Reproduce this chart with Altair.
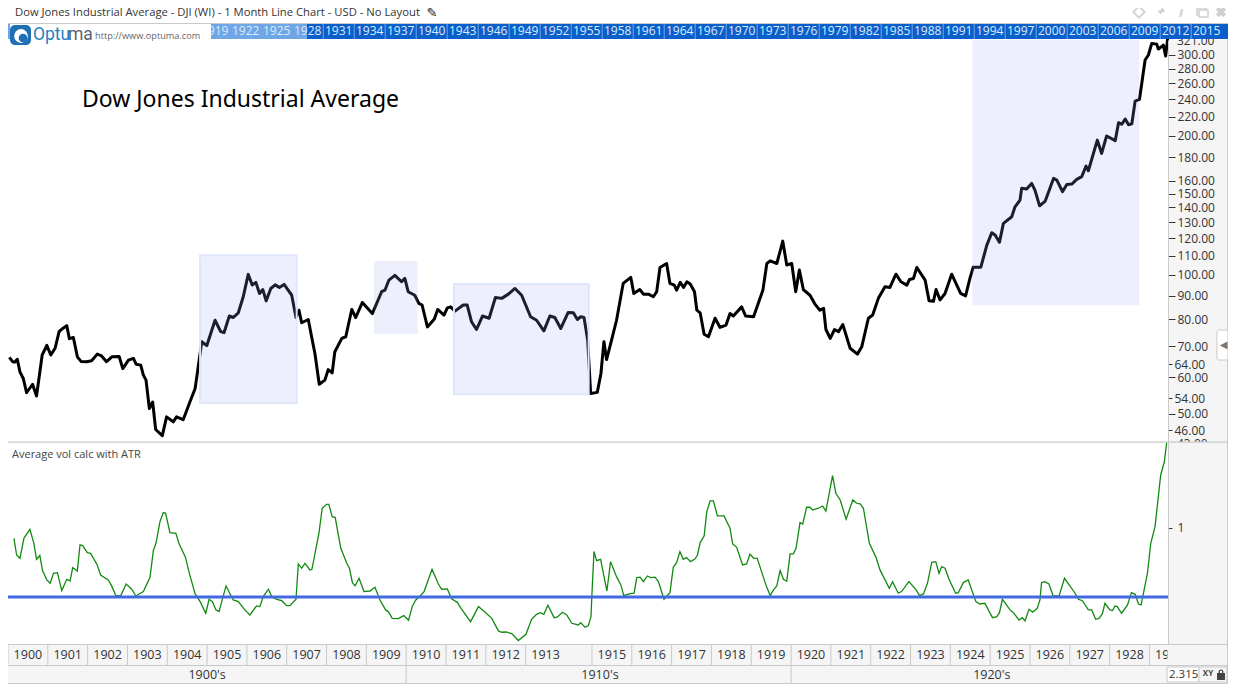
import altair as alt
import pandas as pd

# ---- price series: bar number (months since Jan 1900, market closed late 1914) and close
dji_bar = [
 0.4,1.4,2.1,2.8,3.6,4.6,5.6,7.4,8.6,10.3,
 11.7,12.9,14.2,15.4,16.4,17.7,18.5,19.7,20.9,22.0,
 23.7,25.2,26.9,28.2,29.7,31.3,33.5,34.6,36.3,37.8,
 38.6,40.0,40.8,41.6,42.6,43.6,44.5,46.5,47.8,49.8,
 50.8,52.8,54.9,56.4,58.4,59.9,62.4,64.1,65.1,66.7,
 67.9,69.4,70.9,72.4,73.6,74.7,75.8,76.8,77.8,79.2,
 80.5,81.8,83.2,85.5,86.8,87.7,88.5,90.5,91.5,92.5,
 93.8,95.5,96.5,97.7,98.5,100.6,101.8,103.6,104.8,106.8,
 109.8,112.6,113.6,114.8,116.6,118.6,119.6,120.6,122.6,123.8,
 124.8,126.4,128.5,129.5,131.4,132.4,133.4,134.7,137.2,138.4,
 139.7,141.2,143.0,145.0,146.9,148.8,150.8,152.8,154.8,157.5,
 159.3,161.5,163.3,164.8,166.6,168.8,170.4,171.6,172.6,173.6,
 174.7,175.6,177.6,178.7,179.6,180.4,181.9,183.4,185.4,187.7,
 188.6,190.4,191.5,193.0,194.5,195.5,196.5,198.5,199.5,200.8,
 201.5,202.6,203.6,204.6,205.6,206.9,207.6,208.6,209.8,211.1,
 213.1,214.6,216.4,217.6,218.6,221.1,222.3,224.7,227.5,228.7,
 229.7,231.7,233.5,234.7,236.2,237.4,238.5,239.7,241.7,243.2,
 244.7,245.8,246.5,247.8,249.1,250.3,251.6,253.8,256.0,257.3,
 259.3,260.6,262.3,264.3,265.8,267.6,269.1,270.9,271.7,272.9,
 273.9,276.4,277.6,278.9,279.7,280.9,282.4,284.4,287.1,288.6,
 289.9,290.9,293.2,295.0,296.5,297.5,298.8,300.0,302.5,303.5,
 305.0,305.5,307.0,308.5,309.5,310.9,312.6,315.1,316.1,317.8,
 319.1,320.6,322.1,323.6,324.9,325.6,328.3,329.6,331.1,333.7,
 334.7,335.7,336.7,337.7,338.7,339.7,341.0,342.7,343.7,344.7,
 346.2,346.7,348.2,348.9,349.5]
dji_close = [
 66.2,64.8,64.7,65.6,61.6,59.6,55.5,57.9,54.6,67.0,
 70.3,67.0,69.3,75.3,76.4,77.6,72.7,73.1,66.4,64.9,
 64.8,65.1,67.3,66.7,64.8,66.4,66.5,62.6,65.3,65.9,
 64.0,63.7,60.6,59.1,51.3,53.0,46.2,44.8,49.2,48.0,
 49.2,48.5,53.2,56.7,71.6,70.2,79.7,75.3,74.9,81.4,
 80.8,82.7,89.6,100.2,95.0,96.3,91.1,92.9,87.8,93.4,
 95.1,93.9,95.3,90.3,80.8,83.8,78.7,80.0,73.4,67.5,
 57.9,59.1,62.3,61.3,68.1,72.8,73.4,84.1,80.8,87.1,
 82.4,91.9,92.6,97.4,99.7,96.6,98.2,91.9,90.3,86.7,
 86.0,77.1,80.2,84.1,81.8,84.8,85.2,83.4,86.0,86.0,
 79.1,76.1,81.4,80.5,89.3,88.9,90.8,93.4,90.3,81.1,
 79.7,75.6,81.4,80.8,76.5,82.8,82.7,80.0,81.1,80.8,
 72.2,55.3,55.6,61.1,71.6,65.5,72.2,79.7,95.8,98.7,
 91.1,92.9,90.8,90.8,89.6,91.9,103.7,105.8,95.8,95.0,
 92.6,96.3,93.9,96.6,95.5,91.9,83.8,82.7,74.3,73.4,
 80.5,76.9,77.8,82.4,81.4,85.2,81.4,81.1,92.6,105.8,
 107.2,105.8,118.3,105.0,105.8,91.9,102.4,92.9,90.3,86.4,
 83.8,84.6,76.1,72.8,76.1,75.3,78.0,69.3,67.3,69.8,
 80.5,81.8,88.9,94.2,93.9,100.3,96.6,95.0,97.7,98.2,
 103.7,97.4,87.8,87.6,92.9,88.2,91.1,100.3,91.1,90.0,
 98.2,103.9,103.9,116.0,123.4,122.0,117.6,129.3,133.6,140.4,
 145.2,154.0,153.5,157.8,152.6,141.1,144.5,161.8,160.5,151.4,
 157.0,157.3,161.0,163.2,172.1,168.1,195.9,183.3,200.0,195.4,
 213.7,212.0,217.6,211.5,212.5,238.1,240.1,292.2,299.6,317.4,
 316.3,308.6,314.8,298.0,326.0]

# ---- indicator series
atr_bar = [
 1.8,2.6,3.6,4.8,6.6,7.8,8.6,9.6,10.4,11.7,
 12.7,13.7,14.9,16.2,17.7,18.7,19.5,20.9,21.7,22.5,
 23.9,24.9,26.9,27.9,30.2,31.2,32.5,34.0,35.6,37.3,
 38.5,40.8,42.8,43.8,44.6,45.8,46.8,47.5,48.8,50.6,
 51.5,53.5,54.7,56.4,57.9,59.6,60.6,61.6,62.7,63.6,
 65.7,67.9,69.4,71.4,72.9,74.9,75.9,76.9,78.5,79.5,
 81.0,82.5,84.0,85.0,86.8,87.5,88.5,89.5,91.0,91.6,
 93.7,94.7,96.0,96.7,97.7,98.6,100.3,102.1,102.9,103.8,
 104.6,105.8,107.3,109.1,110.6,112.1,113.8,114.6,115.8,117.6,
 119.3,120.7,121.9,122.9,124.2,125.4,127.8,129.7,130.7,132.4,
 133.7,135.4,136.7,139.4,141.8,143.8,145.8,147.8,148.8,150.1,
 151.8,153.8,156.1,157.8,159.3,160.5,161.5,162.7,164.6,165.6,
 167.1,168.4,169.9,171.9,172.6,173.9,174.9,175.7,176.0,176.6,
 177.4,178.6,180.5,181.6,183.4,184.7,185.6,187.5,188.7,189.5,
 190.5,191.5,192.7,193.7,195.0,196.0,197.7,199.5,200.5,201.5,
 202.5,203.5,204.5,205.7,207.0,207.8,208.6,209.8,210.6,211.6,
 212.6,213.8,215.8,217.6,218.4,219.6,221.4,222.6,223.6,224.8,
 225.8,227.6,228.6,229.7,230.7,231.7,232.7,233.7,234.7,235.7,
 236.7,237.5,238.7,239.5,240.7,241.7,242.5,244.2,245.5,246.5,
 248.5,249.5,250.8,252.6,254.6,255.8,256.8,257.8,259.6,261.6,
 262.8,265.6,266.6,268.3,269.3,271.5,273.7,274.7,275.9,277.1,
 278.4,279.6,280.6,281.4,282.4,283.7,285.6,286.4,287.9,289.4,
 291.7,292.9,294.4,296.7,298.0,298.8,299.7,302.0,303.0,304.7,
 305.7,306.5,307.7,308.8,310.2,311.0,311.5,312.5,313.7,315.0,
 316.8,318.4,321.6,322.6,323.8,325.6,326.6,327.8,328.8,329.8,
 330.6,332.1,332.9,333.6,334.3,335.6,337.4,338.6,339.7,340.7,
 341.5,343.4,344.4,345.7,347.4,348.5,349.2]
atr_value = [
 .925,.804,.780,.925,.990,.889,.773,.800,.691,.623,
 .599,.671,.676,.546,.628,.616,.713,.688,.877,.872,
 .821,.816,.732,.659,.623,.582,.510,.510,.594,.556,
 .507,.539,.643,.836,.889,1.046,1.111,1.106,.966,.961,
 .889,.787,.667,.522,.466,.382,.483,.466,.406,.394,
 .580,.478,.466,.406,.370,.435,.430,.502,.556,.502,
 .483,.473,.437,.437,.483,.739,.708,.744,.696,.700,
 .961,1.143,1.171,1.171,1.082,1.077,.853,.744,.708,.604,
 .580,.635,.539,.543,.570,.478,.406,.394,.345,.343,
 .365,.331,.435,.478,.507,.539,.700,.594,.556,.558,
 .486,.461,.411,.321,.430,.389,.345,.254,.244,.246,
 .234,.184,.229,.338,.374,.386,.374,.440,.350,.355,
 .389,.370,.309,.297,.314,.280,.292,.357,.527,.829,
 .763,.773,.543,.756,.647,.587,.510,.524,.527,.640,
 .643,.611,.652,.640,.643,.611,.483,.531,.715,.749,
 .829,.773,.785,.756,.775,.804,.894,.942,1.118,1.196,
 1.196,1.087,1.087,.998,.884,.860,.732,.739,.809,.780,
 .780,.647,.575,.510,.551,.580,.691,.628,.614,.812,
 .812,.853,1.039,1.029,1.150,1.150,1.130,1.143,1.159,1.123,
 1.379,1.251,1.203,1.063,1.203,1.179,1.174,1.143,.889,.787,
 .696,.563,.611,.527,.539,.611,.551,.510,.522,.599,
 .751,.756,.671,.720,.708,.623,.527,.531,.604,.623,
 .466,.449,.454,.350,.357,.386,.483,.406,.386,.333,
 .350,.326,.411,.389,.418,.478,.604,.611,.594,.507,
 .510,.635,.527,.483,.473,.406,.406,.338,.345,.377,
 .454,.406,.401,.435,.430,.382,.442,.531,.519,.449,
 .442,.671,.889,1.010,1.384,1.481,1.618]
atr_level = [0.5]

# ---- shaded regions on the price panel
band_start = [57.9, 134.4, 110.3, 290.6]
band_end = [87.0, 175.0, 123.5, 340.9]
band_low = [52.7, 55.1, 74.4, 85.9]
band_high = [110.3, 95.5, 107.1, 322.9]
band_edged = [True, True, False, False]

# ---- axes and time strips
price_ticks = [300,280,260,240,220,200,180,160,150,140,130,120,110,100,90,80,70,64,60,54,50,46]
price_cut_ticks = [321, 43]
price_minor = [64,54,46]
atr_ticks = [1]
year_names = ["1900","1901","1902","1903","1904","1905","1906","1907","1908","1909",
              "1910","1911","1912","1913","1915","1916","1917","1918","1919","1920",
              "1921","1922","1923","1924","1925","1926","1927","1928","1929"]
year_start = [0,12,24,36,48,60,72,84,96,108,120,132,144,156,176,188,200,212,224,236,
              248,260,272,284,296,308,320,332,344]
year_center = [6,18,30,42,54,66,78,90,102,114,126,138,150,162,182,194,206,218,230,242,
               254,266,278,290,302,314,326,338,350]
decade_names = ["1900's","1910's","1920's"]
decade_center = [60.0,178.4,296.5]
decade_start = [120,236]
overview_years = list(range(1919, 2016, 3))

FONT = "Open Sans"
GRID = "#c9c9c9"
PANEL = "#f5f5f5"
one = pd.DataFrame({"a": [0]})

xs = alt.Scale(domain=[0, 349.6], range=[0, 1160], nice=False, zero=False)
ys = alt.Scale(type="log", domain=[43.4, 322.9], range=[434, 32], nice=False)
ya = alt.Scale(domain=[0.159, 1.623], range=[636, 434], nice=False, zero=False)
ov = alt.Scale(domain=[1919, 2015], range=[206.7, 1198.7], nice=False, zero=False)

def box(x0, y0, x1, y1, color, **kw):
    return alt.Chart(one).mark_rect(color=color, **kw).encode(
        x=alt.value(x0 - 8), x2=alt.value(x1 - 8), y=alt.value(y0 - 8), y2=alt.value(y1 - 8))

def label(x, y, text, size=12, color="#333333", align="left", font=FONT, **kw):
    return alt.Chart(one).mark_text(text=text, fontSize=size, color=color, align=align,
                                    baseline="middle", font=font, **kw).encode(
        x=alt.value(x - 8), y=alt.value(y - 8))

def dot(x, y, **kw):
    return alt.Chart(one).mark_point(**kw).encode(x=alt.value(x - 8), y=alt.value(y - 8))

dji = pd.DataFrame({"bar": dji_bar, "close": dji_close})
atr = pd.DataFrame({"bar": atr_bar, "value": atr_value})
bands = pd.DataFrame({"start": band_start, "end": band_end, "low": band_low,
                      "high": band_high, "edged": band_edged})
years = pd.DataFrame({"name": year_names, "start": year_start, "center": year_center})
decades = pd.DataFrame({"name": decade_names, "center": decade_center})
dec_sep = pd.DataFrame({"start": decade_start})
ovr = pd.DataFrame({"year": overview_years,
                    "sep": [y - 1.5 for y in overview_years]})
level = pd.DataFrame({"value": atr_level})
cut = pd.DataFrame({"value": price_cut_ticks})

price_axis = alt.Axis(
    orient="right", values=price_ticks, title=None, grid=False,
    labelExpr="format(datum.value,'.2f')", labelFont=FONT, labelFontSize=12,
    labelColor="#333333", labelPadding=2, labelOverlap=False, labelBound=False, labelFlush=False,
    tickColor="#333333", tickSize={"condition": {"test": "indexof(%s,datum.value)>=0" % price_minor, "value": 4}, "value": 7},
    domainColor=GRID, zindex=1)
atr_axis = alt.Axis(
    orient="right", values=atr_ticks, title=None, grid=False, format="d",
    labelFont=FONT, labelFontSize=12, labelColor="#333333", labelPadding=5,
    tickColor="#333333", tickSize=4, domainColor=GRID, zindex=1)

layers = [
    box(1168, 40, 1228, 684, PANEL),
    box(8, 644, 1228, 684, PANEL),
    # price panel
    alt.Chart(dji).mark_line(color="#000000", strokeWidth=3, strokeJoin="round").encode(
        x=alt.X("bar:Q", scale=xs, axis=None),
        y=alt.Y("close:Q", scale=ys, axis=price_axis)),
    alt.Chart(bands).transform_filter("datum.edged").mark_rect(
        fill="#9baaee", fillOpacity=0.18, stroke="#dfe6fa", strokeWidth=2).encode(
        x=alt.X("start:Q", scale=xs, axis=None), x2="end:Q",
        y=alt.Y("low:Q", scale=ys, axis=None), y2="high:Q"),
    alt.Chart(bands).transform_filter("!datum.edged").mark_rect(
        fill="#9baaee", fillOpacity=0.18).encode(
        x=alt.X("start:Q", scale=xs, axis=None), x2="end:Q",
        y=alt.Y("low:Q", scale=ys, axis=None), y2="high:Q"),
    alt.Chart(cut).transform_calculate(name="format(datum.value,'.2f')").mark_text(
        font=FONT, fontSize=12, color="#333333", align="left", baseline="middle").encode(
        x=alt.value(1169), y=alt.Y("value:Q", scale=ys, axis=None), text="name:N"),
    # indicator panel
    box(1169, 442, 1228, 644, PANEL),
    box(8, 442, 1168, 644, "#ffffff"),
    alt.Chart(atr).mark_line(color="#128a12", strokeWidth=1.3).encode(
        x=alt.X("bar:Q", scale=xs, axis=None),
        y=alt.Y("value:Q", scale=ya, axis=atr_axis)),
    alt.Chart(level).mark_rule(color="#4169e1", strokeWidth=3).encode(
        x=alt.value(0), x2=alt.value(1160),
        y=alt.Y("value:Q", scale=ya, axis=None)),
    box(8, 441.5, 1228, 442.8, GRID),
    label(12, 455, "Average vol calc with ATR", size=11, color="#444444"),
    label(82, 100, "Dow Jones Industrial Average", size=23, color="#000000", font="Noto Sans"),
    # time strips
    alt.Chart(years).mark_text(font=FONT, fontSize=12.5, color="#333333", baseline="middle").encode(
        x=alt.X("center:Q", scale=xs, axis=None), y=alt.value(654.5 - 8), text="name:N"),
    box(1167.5, 644, 1228, 665, PANEL),
    alt.Chart(years).mark_rule(color=GRID, strokeWidth=1).encode(
        x=alt.X("start:Q", scale=xs, axis=None), y=alt.value(644 - 8), y2=alt.value(665 - 8)),
    alt.Chart(decades).mark_text(font=FONT, fontSize=12.5, color="#333333", baseline="middle").encode(
        x=alt.X("center:Q", scale=xs, axis=None), y=alt.value(674.5 - 8), text="name:N"),
    alt.Chart(dec_sep).mark_rule(color=GRID, strokeWidth=1).encode(
        x=alt.X("start:Q", scale=xs, axis=None), y=alt.value(665 - 8), y2=alt.value(684 - 8)),
    box(8, 644, 1228, 645, GRID),
    box(8, 665, 1228, 666, GRID),
    box(8, 683, 1228, 684, GRID),
    box(1227, 40, 1228, 684, GRID),
    # overview strip
    box(8, 23, 1228, 24, GRID),
    box(8, 24, 1228, 39, "#0a5fcb"),
    box(8, 24, 307, 39, "#6ea6e6"),
    alt.Chart(ovr).mark_rule(color="#6fa6e6", strokeWidth=1).encode(
        x=alt.X("sep:Q", scale=ov, axis=None), y=alt.value(24 - 8), y2=alt.value(39 - 8)),
    alt.Chart(ovr).transform_calculate(name="'' + datum.year").mark_text(
        font=FONT, fontSize=12, color="#dcebfb", baseline="middle").encode(
        x=alt.X("year:Q", scale=ov, axis=None), y=alt.value(31 - 8), text="name:N"),
    box(10, 24, 211, 39, "#ffffff"),
    box(10, 39, 95, 46, "#ffffff"),
    # logo
    box(10, 25, 31, 45, "#1f6fb5", cornerRadius=5),
    dot(21, 36, shape="circle", filled=True, color="#ffffff", opacity=1, size=190),
    dot(23, 38, shape="circle", filled=True, color="#1f6fb5", opacity=1, size=75),
    label(33, 35, "Optu", size=17.5, color="#1f7fc4", font="Roboto"),
    label(68, 35, "ma", size=17.5, color="#5a6470", font="Roboto"),
    label(95, 35.5, "http://www.optuma.com", size=9.2, color="#666666"),
    # window title and icons
    label(15, 12.5, "Dow Jones Industrial Average - DJI (WI) - 1 Month Line Chart - USD - No Layout", size=11.25),
    label(432, 13, "\u270e", size=13, color="#222222", align="center", font="DejaVu Sans"),
    dot(1139, 12, shape="diamond", filled=False, color="#d4d4d4", opacity=1, strokeWidth=2, size=130),
    dot(1160, 12, shape="M-1,1 L-0.2,0.1 L-0.5,-0.3 L0.1,-0.3 L0.4,-0.9 L1,-0.1 L0.4,0 L0.2,0.5 L-0.1,0.1 Z",
        filled=True, color="#cfcfcf", opacity=1, size=110),
    label(1181, 13, "i", size=14, color="#cfcfcf", align="center", fontWeight="bold", fontStyle="italic"),
    box(1197, 8, 1206, 15, "#ffffff", stroke="#cfcfcf", strokeWidth=1.5),
    box(1199, 10, 1208, 17, "#ffffff", stroke="#cfcfcf", strokeWidth=1.5),
    dot(1221, 12, shape="cross", filled=True, color="#cfcfcf", opacity=1, size=110, angle=45),
    # side tab
    box(1217, 330, 1228, 360, "#ffffff", stroke=GRID, strokeWidth=1, cornerRadius=2),
    label(1223.5, 345, "\u25c0", size=10, color="#777777", align="center", font="DejaVu Sans"),
    # read-out
    box(1167, 667, 1199, 682, "#ffffff", stroke=GRID, strokeWidth=1),
    label(1169, 675, "2.315", size=11.5),
    box(1199, 667, 1227, 682, PANEL, stroke=GRID, strokeWidth=1),
    label(1208, 674, "XY", size=8, color="#444444", align="center", fontWeight="bold"),
    box(1217, 673, 1225, 680, "#444444"),
    dot(1221, 672, shape="circle", filled=False, color="#444444", opacity=1, size=14, strokeWidth=1.2),
]

chart = alt.layer(*layers).resolve_scale(x="independent", y="independent").properties(
    width=1160, height=676,
    autosize=alt.AutoSizeParams(type="none"),
    padding={"left": 0, "top": 0, "right": 60, "bottom": 0},
    background="#ffffff",
).configure_view(stroke=None)

chart.save("out.html", embed_options={"renderer": "svg", "actions": False})
